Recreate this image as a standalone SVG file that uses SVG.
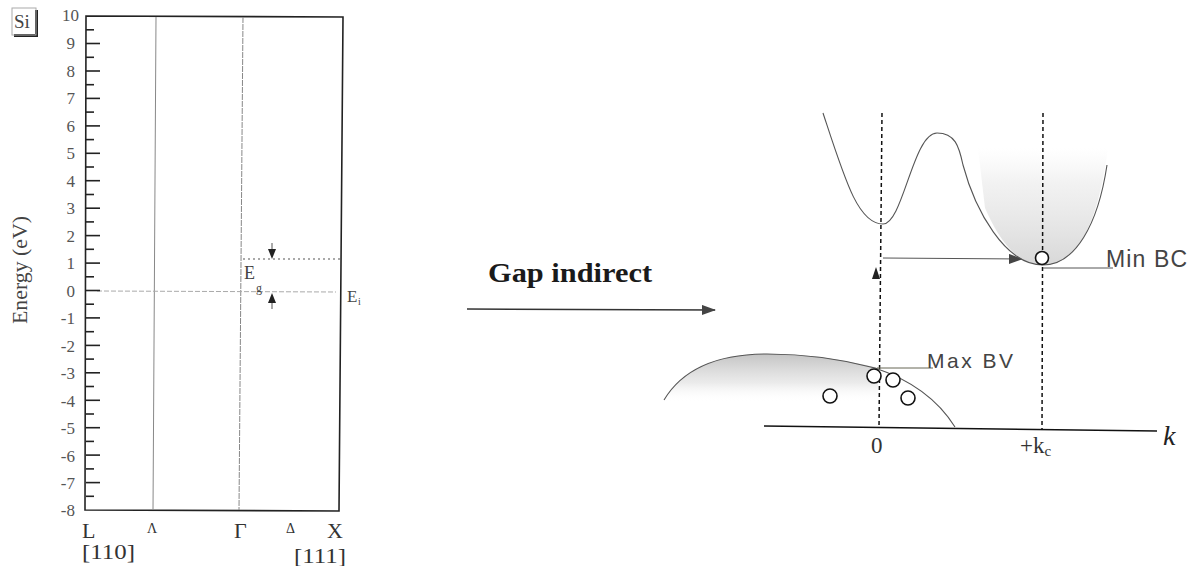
<svg xmlns="http://www.w3.org/2000/svg" width="1199" height="566" viewBox="0 0 1199 566">
<defs>
<style>
.serif{font-family:"Liberation Serif","Times New Roman",serif;}
.sans{font-family:"Liberation Sans",Arial,sans-serif;}
.num{font-family:"Liberation Serif",serif;font-size:17px;fill:#555;text-anchor:end;}
.tick{stroke:#222;stroke-width:1.6;}
.dash{stroke:#111;stroke-width:1.5;stroke-dasharray:4 3;fill:none;}
.curve{fill:none;stroke:#555;stroke-width:1.1;}
.hole{fill:#fff;stroke:#111;stroke-width:1.6;}
</style>
<linearGradient id="cbShade" x1="0" y1="0" x2="0" y2="1">
<stop offset="0" stop-color="#f2f2f2" stop-opacity="0"/>
<stop offset="0.3" stop-color="#ececec" stop-opacity="0.7"/>
<stop offset="1" stop-color="#d8d8d8"/>
</linearGradient>
<linearGradient id="vbShade" x1="0" y1="0" x2="0" y2="1">
<stop offset="0" stop-color="#c4c4c4"/>
<stop offset="0.6" stop-color="#e6e6e6" stop-opacity="0.8"/>
<stop offset="1" stop-color="#ffffff" stop-opacity="0"/>
</linearGradient>
<marker id="tri" markerWidth="14" markerHeight="10" refX="13" refY="5" orient="auto" markerUnits="userSpaceOnUse">
<path d="M0,0 L14,5 L0,10 Z" fill="#444"/>
</marker>
</defs>
<rect width="1199" height="566" fill="#fff"/>

<g id="si-label">
<rect x="35" y="10" width="3" height="27" fill="#222"/>
<rect x="14" y="34" width="24" height="3" fill="#222"/>
<rect x="12" y="8" width="24" height="27" fill="none" stroke="#aaa" stroke-width="1"/>
<text x="14" y="28" class="serif" font-size="19" fill="#444">Si</text>
</g>

<g id="axis-frame">
<polygon points="86,16 343,17 339,511 85,510" fill="none" stroke="#222" stroke-width="1.6"/>
<line x1="156" y1="17" x2="153" y2="510" stroke="#888" stroke-width="1"/>
<line x1="243" y1="17" x2="239" y2="510" stroke="#888" stroke-width="1" stroke-dasharray="6 1"/>
<line x1="97" y1="291" x2="336" y2="292" stroke="#aaa" stroke-width="1" stroke-dasharray="5 2"/>
<line x1="243" y1="259" x2="340" y2="259" stroke="#555" stroke-width="1.2" stroke-dasharray="2 3"/>
</g>

<g id="ticks">
<line class="tick" x1="86" y1="43.5" x2="100" y2="43.5"/>
<line class="tick" x1="86" y1="71" x2="100" y2="71"/>
<line class="tick" x1="86" y1="98.4" x2="100" y2="98.4"/>
<line class="tick" x1="86" y1="125.9" x2="100" y2="125.9"/>
<line class="tick" x1="86" y1="153.3" x2="100" y2="153.3"/>
<line class="tick" x1="86" y1="180.7" x2="100" y2="180.7"/>
<line class="tick" x1="86" y1="208.2" x2="100" y2="208.2"/>
<line class="tick" x1="86" y1="235.6" x2="100" y2="235.6"/>
<line class="tick" x1="86" y1="263.1" x2="100" y2="263.1"/>
<line class="tick" x1="86" y1="290.5" x2="100" y2="290.5"/>
<line class="tick" x1="86" y1="317.9" x2="100" y2="317.9"/>
<line class="tick" x1="86" y1="345.4" x2="100" y2="345.4"/>
<line class="tick" x1="86" y1="372.8" x2="100" y2="372.8"/>
<line class="tick" x1="86" y1="400.3" x2="100" y2="400.3"/>
<line class="tick" x1="86" y1="427.7" x2="100" y2="427.7"/>
<line class="tick" x1="86" y1="455.1" x2="100" y2="455.1"/>
<line class="tick" x1="86" y1="482.6" x2="100" y2="482.6"/>
<line class="tick" x1="86" y1="29.8" x2="94" y2="29.8"/>
<line class="tick" x1="86" y1="57.3" x2="94" y2="57.3"/>
<line class="tick" x1="86" y1="84.7" x2="94" y2="84.7"/>
<line class="tick" x1="86" y1="112.1" x2="94" y2="112.1"/>
<line class="tick" x1="86" y1="139.6" x2="94" y2="139.6"/>
<line class="tick" x1="86" y1="167" x2="94" y2="167"/>
<line class="tick" x1="86" y1="194.5" x2="94" y2="194.5"/>
<line class="tick" x1="86" y1="221.9" x2="94" y2="221.9"/>
<line class="tick" x1="86" y1="249.3" x2="94" y2="249.3"/>
<line class="tick" x1="86" y1="276.8" x2="94" y2="276.8"/>
<line class="tick" x1="86" y1="304.2" x2="94" y2="304.2"/>
<line class="tick" x1="86" y1="331.7" x2="94" y2="331.7"/>
<line class="tick" x1="86" y1="359.1" x2="94" y2="359.1"/>
<line class="tick" x1="86" y1="386.5" x2="94" y2="386.5"/>
<line class="tick" x1="86" y1="414" x2="94" y2="414"/>
<line class="tick" x1="86" y1="441.4" x2="94" y2="441.4"/>
<line class="tick" x1="86" y1="468.9" x2="94" y2="468.9"/>
<line class="tick" x1="86" y1="496.3" x2="94" y2="496.3"/>
</g>

<g id="tick-labels">
<text class="num" x="79" y="21">10</text>
<text class="num" x="75" y="49">9</text>
<text class="num" x="75" y="76.5">8</text>
<text class="num" x="75" y="104">7</text>
<text class="num" x="75" y="131.5">6</text>
<text class="num" x="75" y="159">5</text>
<text class="num" x="75" y="186.5">4</text>
<text class="num" x="75" y="214">3</text>
<text class="num" x="75" y="241.5">2</text>
<text class="num" x="75" y="269">1</text>
<text class="num" x="75" y="296.5">0</text>
<text class="num" x="75" y="324">-1</text>
<text class="num" x="75" y="351.5">-2</text>
<text class="num" x="75" y="379">-3</text>
<text class="num" x="75" y="406.5">-4</text>
<text class="num" x="75" y="434">-5</text>
<text class="num" x="75" y="461.5">-6</text>
<text class="num" x="75" y="489">-7</text>
<text class="num" x="75" y="516">-8</text>
</g>

<g id="y-title">
<text class="serif" font-size="20" fill="#444" text-anchor="middle" transform="translate(27,270) rotate(-90)" textLength="108" lengthAdjust="spacingAndGlyphs">Energy (eV)</text>
</g>

<g id="x-labels" class="serif" fill="#333">
<text x="82" y="538" font-size="22">L</text>
<text x="82" y="559" font-size="20" textLength="53" lengthAdjust="spacingAndGlyphs">[110]</text>
<text x="147" y="533" font-size="14">Λ</text>
<text x="234" y="538" font-size="22">Γ</text>
<text x="286" y="533" font-size="14">Δ</text>
<text x="327" y="538" font-size="22">X</text>
<text x="294" y="563" font-size="20" textLength="52" lengthAdjust="spacingAndGlyphs">[111]</text>
</g>

<g id="gap-marker">
<line x1="272" y1="243" x2="272" y2="251" stroke="#555" stroke-width="1"/>
<path d="M268,249 L276,249 L272,259 Z" fill="#222"/>
<line x1="272" y1="301" x2="272" y2="309" stroke="#555" stroke-width="1"/>
<path d="M268,303 L276,303 L272,293 Z" fill="#222"/>
<text x="244" y="279" class="serif" font-size="18" fill="#444">E</text>
<text x="256" y="292" class="serif" font-size="12" fill="#444">g</text>
<text x="347" y="302" class="serif" font-size="17" fill="#444">E</text>
<text x="358" y="305" class="serif" font-size="10" fill="#444">i</text>
</g>

<g id="gap-indirect">
<text x="488" y="282" class="serif" font-size="27" font-weight="bold" fill="#1a1a1a" textLength="164" lengthAdjust="spacingAndGlyphs">Gap indirect</text>
</g>

<g id="connectors">
<line x1="467" y1="309" x2="715" y2="310" stroke="#333" stroke-width="1.5" marker-end="url(#tri)"/>
<line x1="883" y1="258" x2="1022" y2="259" stroke="#555" stroke-width="1" marker-end="url(#tri)"/>
</g>

<g id="conduction-band">
<path d="M978,148 L1108,148 C1100,205 1085,265 1043,265 C1012,265 995,230 985,208 Z" fill="url(#cbShade)"/>
<path class="curve" d="M823,113 C845,180 858,224 883,224 C903,224 913,133 937,133 C955,133 959,146 963,165 C975,210 1005,265 1043,265 C1075,265 1098,225 1107,165"/>
</g>

<g id="valence-band">
<path d="M664,400 C685,365 725,354 767,354 C810,354 845,360 878,368 L878,402 L664,402 Z" fill="url(#vbShade)"/>
<path class="curve" d="M664,400 C685,365 725,354 767,354 C810,354 845,360 875,368 C905,378 935,395 955,427"/>
</g>

<g id="axes-right">
<line x1="764" y1="426" x2="1157" y2="431" stroke="#111" stroke-width="1.6"/>
<line class="dash" x1="882" y1="113" x2="879" y2="428"/>
<line class="dash" x1="1043" y1="113" x2="1042" y2="430"/>
<text x="1163" y="445" class="serif" font-size="28" font-style="italic" fill="#222">k</text>
<text x="871" y="453" class="serif" font-size="23" fill="#333">0</text>
<text x="1020" y="453" class="serif" font-size="23" fill="#333">+k<tspan font-size="15" dy="3">c</tspan></text>
</g>

<g id="min-bc">
<line x1="1043" y1="268" x2="1113" y2="268" stroke="#555" stroke-width="1"/>
<circle class="hole" cx="1042" cy="258" r="6.5"/>
<path d="M872,279 L880,279 L876,267 Z" fill="#222"/>
<text x="1106" y="267" class="sans" font-size="23" fill="#444" textLength="81" lengthAdjust="spacing">Min BC</text>
</g>

<g id="max-bv">
<line x1="877" y1="368" x2="933" y2="368" stroke="#665" stroke-width="1"/>
<text x="927" y="368" class="sans" font-size="21" fill="#444" textLength="86" lengthAdjust="spacing">Max BV</text>
<circle class="hole" cx="874" cy="376" r="7"/>
<circle class="hole" cx="893" cy="380" r="7"/>
<circle class="hole" cx="830" cy="396" r="7"/>
<circle class="hole" cx="908" cy="398" r="7"/>
</g>
</svg>
